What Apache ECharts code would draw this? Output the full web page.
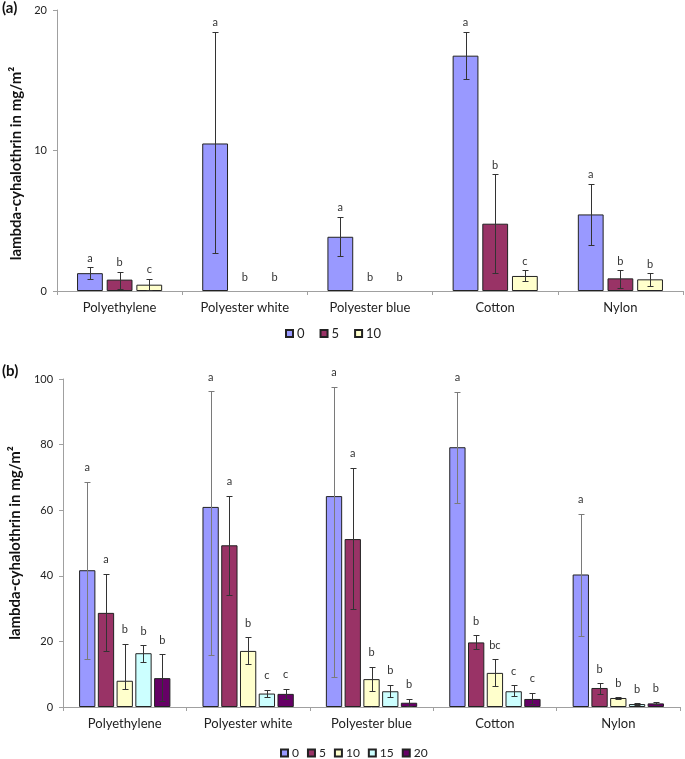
<!DOCTYPE html>
<html>
<head>
<meta charset="utf-8">
<script src="https://cdn.jsdelivr.net/npm/echarts@6/dist/echarts.min.js"></script>
<style>
html,body{margin:0;padding:0;background:#fff;}
#chart{width:685px;height:759px;}
</style>
</head>
<body>
<div id="chart"></div>
<script>
// ---------- data ----------
const categories = ['Polyethylene', 'Polyester white', 'Polyester blue', 'Cotton', 'Nylon'];

// Panel (a)
const seriesNamesA = ['0', '5', '10'];
const meanA0 = [1.27, 10.5, 3.86, 16.75, 5.45];
const lowA0  = [0.88, 2.68, 2.49, 15.07, 3.3];
const highA0 = [1.71, 18.45, 5.29, 18.45, 7.65];
const meanA5 = [0.81, 0, 0, 4.79, 0.9];
const lowA5  = [0.15, 0, 0, 1.3, 0.23];
const highA5 = [1.38, 0, 0, 8.3, 1.49];
const meanA10 = [0.45, 0, 0, 1.07, 0.83];
const lowA10  = [0.1, 0, 0, 0.71, 0.36];
const highA10 = [0.88, 0, 0, 1.49, 1.25];
const lettersA0 = ['a', 'a', 'a', 'a', 'a'];
const lettersA5 = ['b', 'b', 'b', 'b', 'b'];
const lettersA10 = ['c', 'b', 'b', 'c', 'b'];
const yTicksA = { min: 0, max: 20, interval: 10 };

// Panel (b)
const seriesNamesB = ['0', '5', '10', '15', '20'];
const meanB0 = [41.7, 61.0, 64.3, 79.2, 40.4];
const lowB0  = [14.5, 15.9, 9.0, 62.3, 21.5];
const highB0 = [68.7, 96.2, 97.6, 96.1, 58.9];
const meanB5 = [28.7, 49.3, 51.2, 19.7, 5.8];
const lowB5  = [17.2, 34.2, 29.8, 17.6, 4.1];
const highB5 = [40.6, 64.4, 72.9, 21.9, 7.3];
const meanB10 = [8.0, 17.1, 8.5, 10.4, 2.75];
const lowB10  = [5.6, 13.0, 5.0, 6.3, 2.35];
const highB10 = [19.3, 21.2, 12.3, 14.5, 3.05];
const meanB15 = [16.4, 4.1, 4.8, 4.8, 0.9];
const lowB15  = [13.6, 3.05, 3.0, 3.5, 0.6];
const highB15 = [18.9, 5.3, 6.8, 6.7, 1.1];
const meanB20 = [8.8, 4.0, 1.3, 2.45, 1.1];
const lowB20  = [1.7, 2.55, 0.4, 0.8, 0.8];
const highB20 = [16.1, 5.6, 2.5, 4.3, 1.4];
const lettersB0 = ['a', 'a', 'a', 'a', 'a'];
const lettersB5 = ['a', 'a', 'a', 'b', 'b'];
const lettersB10 = ['b', 'b', 'b', 'bc', 'b'];
const lettersB15 = ['b', 'c', 'b', 'c', 'b'];
const lettersB20 = ['b', 'c', 'b', 'c', 'b'];
const yTicksB = { min: 0, max: 100, interval: 20 };

const yTitle = 'lambda-cyhalothrin in mg/m²';
const panelLabels = ['(a)', '(b)'];

// ---------- styling ----------
const colors = ['#9999FF', '#993366', '#FFFFCC', '#CCFFFF', '#660066'];
const FONT = 'Lato';
const GAP = 0.15;
const CATGAP_A = 0.32;
const CATGAP_B = 0.26;

const meansA = [meanA0, meanA5, meanA10];
const lowsA = [lowA0, lowA5, lowA10];
const highsA = [highA0, highA5, highA10];
const lettersA = [lettersA0, lettersA5, lettersA10];
const meansB = [meanB0, meanB5, meanB10, meanB15, meanB20];
const lowsB = [lowB0, lowB5, lowB10, lowB15, lowB20];
const highsB = [highB0, highB5, highB10, highB15, highB20];
const lettersB = [lettersB0, lettersB5, lettersB10, lettersB15, lettersB20];

function errData(lows, highs) {
  const out = [];
  for (let s = 0; s < lows.length; s++) {
    for (let c = 0; c < categories.length; c++) {
      out.push([c, lows[s][c], highs[s][c], s]);
    }
  }
  return out;
}

function errorRender(n, catGap, gap, letterOff, zeroOff, errColors, letterTable) {
  return function (params, api) {
    const c = api.value(0), lo = api.value(1), hi = api.value(2), s = api.value(3);
    const pHi = api.coord([c, hi]);
    const pLo = api.coord([c, lo]);
    const bw = api.size([1, 0])[0];
    const total = bw * (1 - catGap);
    const w = total / (n + (n - 1) * gap);
    const x = pHi[0] - total / 2 + w / 2 + s * w * (1 + gap);
    const xr = Math.round(x) + 0.5;
    const yHi = Math.round(pHi[1]) + 0.5;
    const yLo = Math.round(pLo[1]) + 0.5;
    const st = { stroke: errColors[s], lineWidth: 1 };
    const cap = 3;
    const children = [];
    if (hi > lo) {
      children.push({ type: 'line', shape: { x1: xr, y1: yHi, x2: xr, y2: yLo }, style: st });
      children.push({ type: 'line', shape: { x1: xr - cap, y1: yHi, x2: xr + cap, y2: yHi }, style: st });
      children.push({ type: 'line', shape: { x1: xr - cap, y1: yLo, x2: xr + cap, y2: yLo }, style: st });
    }
    children.push({
      type: 'text', x: x, y: pHi[1] - (hi > lo ? letterOff : zeroOff),
      style: { text: letterTable[s][c], align: 'center', verticalAlign: 'middle', fill: '#333', font: '11px ' + FONT }
    });
    return { type: 'group', children: children };
  };
}

function barSeries(names, means, axisIdx, catGap) {
  return names.map(function (nm, i) {
    return {
      name: nm, type: 'bar', xAxisIndex: axisIdx, yAxisIndex: axisIdx,
      data: means[i].map(function (v) {
        return v === 0 ? { value: v, itemStyle: { borderWidth: 0 } } : v;
      }),
      barGap: (GAP * 100) + '%', barCategoryGap: (catGap * 100) + '%',
      itemStyle: { color: colors[i], borderColor: '#222', borderWidth: 1 },
      z: 2
    };
  });
}

const axisGray = '#A0A0A0';
function xAxisDef(gridIdx) {
  return {
    type: 'category', gridIndex: gridIdx, data: categories,
    axisLine: { lineStyle: { color: axisGray, width: 1 } },
    axisTick: { show: true, length: 4, lineStyle: { color: axisGray } },
    axisLabel: { color: '#222', fontSize: 13, fontFamily: FONT, margin: 10, interval: 0 }
  };
}
function yAxisDef(gridIdx, ticks, padRight) {
  return {
    type: 'value', gridIndex: gridIdx, min: ticks.min, max: ticks.max, interval: ticks.interval,
    name: yTitle, nameLocation: 'middle', nameGap: 31,
    nameTextStyle: { fontFamily: FONT, fontWeight: 'bold', fontSize: 15, color: '#111', padding: [0, padRight, 0, 0] },
    axisLine: { show: true, lineStyle: { color: axisGray, width: 1 } },
    axisTick: { show: true, length: 4, lineStyle: { color: axisGray } },
    axisLabel: { color: '#222', fontSize: 11, fontFamily: FONT, margin: 10 },
    splitLine: { show: false }
  };
}

const chart = echarts.init(document.getElementById('chart'), null, { renderer: 'canvas' });
const option = {
  animation: false,
  backgroundColor: '#fff',
  textStyle: { fontFamily: FONT },
  title: [
    { text: panelLabels[0], left: 2, top: 1, padding: 0, textStyle: { fontFamily: FONT, fontWeight: 'bold', fontSize: 15, color: '#111' } },
    { text: panelLabels[1], left: 2, top: 364, padding: 0, textStyle: { fontFamily: FONT, fontWeight: 'bold', fontSize: 15, color: '#111' } }
  ],
  legend: [
    {
      data: seriesNamesA, left: 285, top: 327, padding: 0, itemWidth: 7, itemHeight: 7, itemGap: 15,
      icon: 'rect', textStyle: { fontSize: 13, fontFamily: FONT, color: '#222', padding: [0, 0, 0, -1] },
      selectedMode: false
    },
    {
      data: seriesNamesB, left: 280, top: 747, padding: 0, itemWidth: 7, itemHeight: 7, itemGap: 8,
      icon: 'rect', textStyle: { fontSize: 12, fontFamily: FONT, color: '#222', padding: [0, 0, 0, -1] },
      selectedMode: false
    }
  ],
  grid: [
    { left: 57, right: 2, top: 10, height: 281, containLabel: false },
    { left: 57, right: 5, top: 379, height: 328, containLabel: false }
  ],
  xAxis: [xAxisDef(0), xAxisDef(1)],
  yAxis: [yAxisDef(0, yTicksA, 26), yAxisDef(1, yTicksB, 0)],
  series: [].concat(
    barSeries(seriesNamesA, meansA, 0, CATGAP_A),
    barSeries(seriesNamesB, meansB, 1, CATGAP_B),
    [
      {
        type: 'custom', xAxisIndex: 0, yAxisIndex: 0, z: 5,
        renderItem: errorRender(3, CATGAP_A, GAP, 9, 14, ['#333', '#333', '#333'], lettersA),
        encode: { x: 0, y: [1, 2] },
        data: errData(lowsA, highsA)
      },
      {
        type: 'custom', xAxisIndex: 1, yAxisIndex: 1, z: 5,
        renderItem: errorRender(5, CATGAP_B, GAP, 14, 14, ['#7a7a7a', '#333', '#333', '#333', '#333'], lettersB),
        encode: { x: 0, y: [1, 2] },
        data: errData(lowsB, highsB)
      }
    ]
  )
};
chart.setOption(option);
</script>
</body>
</html>
